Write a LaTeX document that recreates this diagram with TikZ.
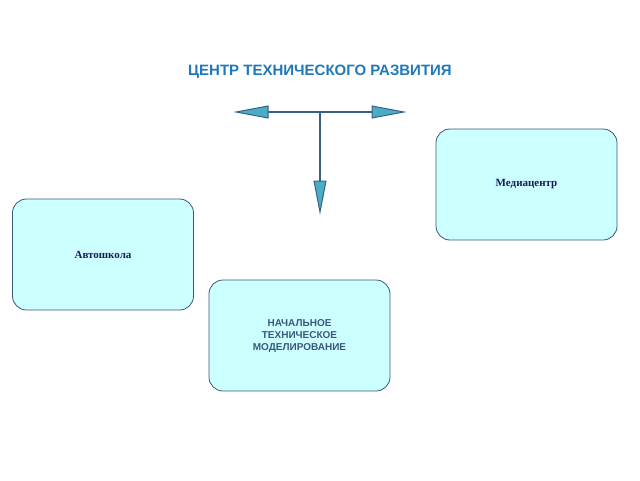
\documentclass[tikz,border=0pt]{standalone}
\usepackage{fontspec}
\setmainfont{Liberation Serif}
\setsansfont{Liberation Sans}
\begin{document}
\begin{tikzpicture}[x=1pt,y=-1pt,
  box/.style={draw=boxline,fill=boxfill,rounded corners=14pt,line width=0.8pt,minimum width=181pt,minimum height=111pt,inner sep=2pt,align=center},
  head/.style={draw=arrline,fill=arrfill,line width=1pt,line join=miter},
  shaft/.style={draw=arrline,line width=1.4pt}]
\definecolor{boxfill}{HTML}{CCFFFF}
\definecolor{boxline}{HTML}{3A5878}
\definecolor{arrline}{HTML}{3A5F86}
\definecolor{arrfill}{HTML}{4BACC6}
\definecolor{titleblue}{HTML}{1F78B8}
\definecolor{navy}{HTML}{1A1A5A}
\useasboundingbox (0,0) rectangle (640,480);
\node[font=\sffamily\bfseries\fontsize{15}{18}\selectfont,text=titleblue] (title) at (320,72) {ЦЕНТР ТЕХНИЧЕСКОГО РАЗВИТИЯ};
\node[box,font=\bfseries\fontsize{11}{13}\selectfont,text=navy] (media) at (526.5,184.5) {Медиацентр};
\node[box,font=\bfseries\fontsize{11}{13}\selectfont,text=navy] (auto) at (103,254.5) {Автошкола};
\node[box,font=\sffamily\bfseries\fontsize{10}{12}\selectfont,text=boxline] (ntm) at (299.5,335.5) {НАЧАЛЬНОЕ\\ТЕХНИЧЕСКОЕ\\МОДЕЛИРОВАНИЕ};
\coordinate (j) at (320,112);
\coordinate (l) at (268,112);
\coordinate (r) at (372,112);
\coordinate (d) at (320,181);
\draw[shaft] (l) -- (r);
\draw[shaft] (j) -- (d);
\draw[head] (268,106) -- (236,112) -- (268,118) -- cycle;
\draw[head] (372,106) -- (404,112) -- (372,118) -- cycle;
\draw[head] (314,181) -- (320,212) -- (326,181) -- cycle;
\end{tikzpicture}
\end{document}
